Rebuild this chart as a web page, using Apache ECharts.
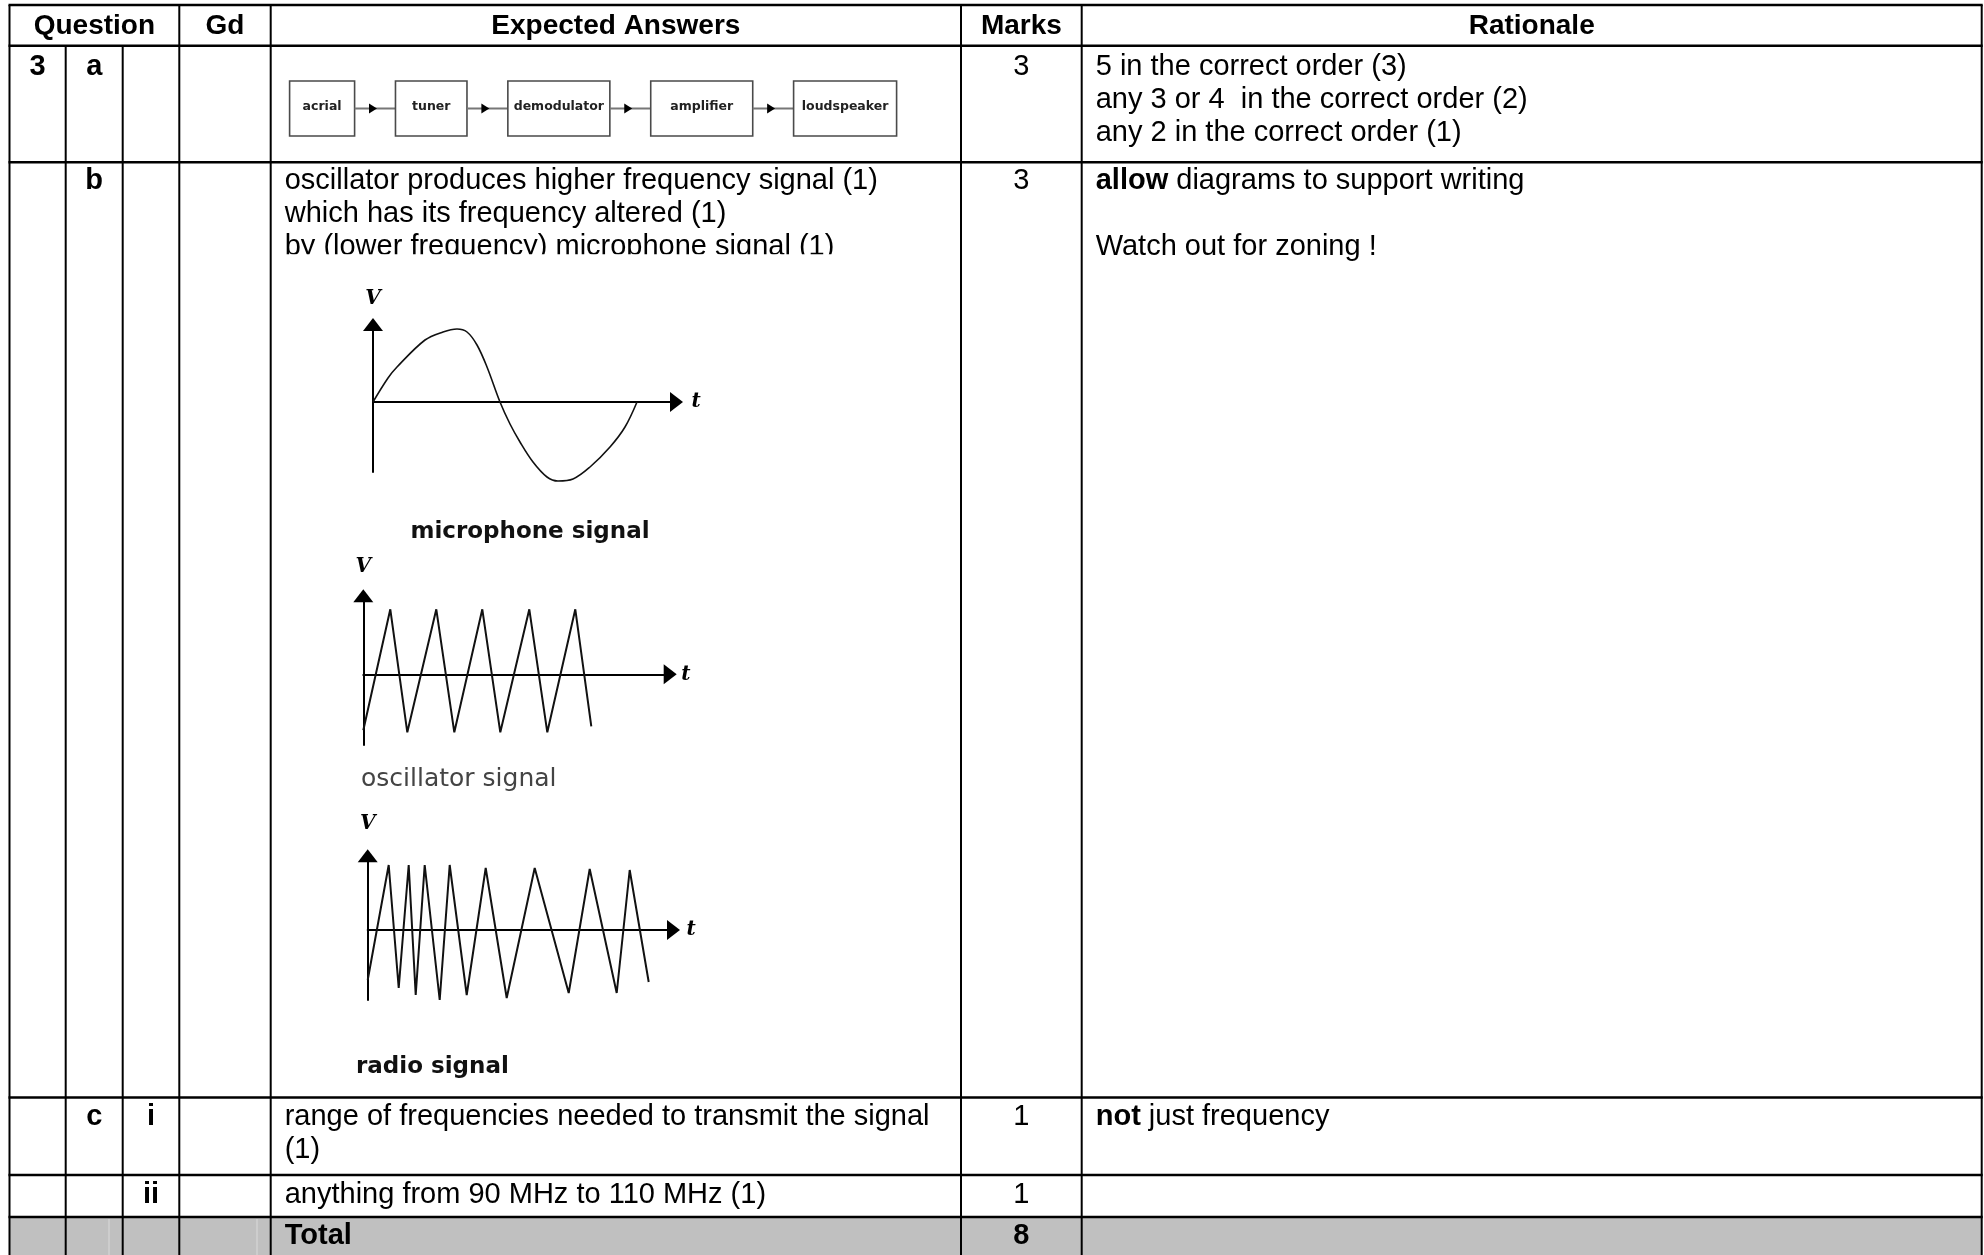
<!DOCTYPE html>
<html>
<head>
<meta charset="utf-8">
<title>Question 3 - mark scheme</title>
<script src="https://cdn.jsdelivr.net/npm/echarts@6/dist/echarts.min.js"></script>
<style>
    html, body { margin: 0; padding: 0; background: #fff; }
    #chart { width: 1984px; height: 1255px; }
</style>
</head>
<body>
<div id="chart"></div>
<script>
// table texts
var headers = ['Question', 'Gd', 'Expected Answers', 'Marks', 'Rationale'];
var partLabels = ['3', 'a', 'b', 'c', 'i', 'ii'];
var marks = ['3', '3', '1', '1', '8'];
var rationaleA = ['5 in the correct order (3)', 'any 3 or 4  in the correct order (2)', 'any 2 in the correct order (1)'];
var answerB = ['oscillator produces higher frequency signal (1)', 'which has its frequency altered (1)', 'by (lower frequency) microphone signal (1)'];
var answerC = ['range of frequencies needed to transmit the signal', '(1)'];
var answerII = 'anything from 90 MHz to 110 MHz (1)';

// block diagram of the receiver
var blockLabels = ['acrial', 'tuner', 'demodulator', 'amplifier', 'loudspeaker'];

// wave sketches, [t, V]
var micSignal = [[0, 0], [15, 24], [24, 35], [52, 62], [70, 70], [84, 73], [94, 70], [104, 57], [114, 35], [127, 0],
    [137, -22], [147, -40], [160, -60], [174, -75], [185, -79], [200, -77], [217, -65], [237, -45], [252, -25], [264, 0]];
var oscSignal = [[0, -56], [27, 65], [44, -58], [73, 65], [91, -58], [119, 65], [137, -58], [166, 65], [184, -58],
    [212, 65], [228, -52]];
var radioSignal = [[0, -50], [21, 65], [31, -58], [41, 65], [48, -65], [57, 65], [72, -70], [82, 65], [99, -65],
    [118, 62], [139, -68], [167, 62], [201, -63], [222, 61], [249, -63], [262, 60], [281, -52]];

// layout
var COLS = [9.5, 65.7, 122.7, 179.3, 270.7, 961, 1081.7, 1981.7];
var ROWS = [5, 45.7, 162.3, 1097.5, 1175, 1217, 1255];
var LH = 33;
var BODY = 29;
var FONT = 'Liberation Sans, Arial, sans-serif';
var blockBoxWidths = [65, 71.5, 102, 102, 103];

showChart();

function mid(a, b) {
    return (a + b) / 2;
}

function txt(x, y, s, o) {
    o = o || {};
    var size = o.size || BODY;
    return {
        type: 'text',
        x: x,
        y: y,
        z: 5,
        silent: true,
        style: {
            text: s,
            fill: o.fill || '#000',
            fontSize: size,
            fontWeight: o.bold ? 'bold' : 'normal',
            fontFamily: o.family || FONT,
            align: o.align || 'left',
            verticalAlign: 'middle',
            rich: {
                b: { fontSize: size, fontWeight: 'bold', fontFamily: o.family || FONT, fill: '#000' }
            }
        }
    };
}

function line(x1, y1, x2, y2, w, c) {
    return {
        type: 'line',
        z: 6,
        silent: true,
        shape: { x1: x1, y1: y1, x2: x2, y2: y2 },
        style: { stroke: c || '#000', lineWidth: w || 2 }
    };
}

function tableGraphics() {
    var g = [];
    var L = COLS[0], R = COLS[COLS.length - 1];

    // grey total row
    g.push({
        type: 'rect', z: 1, silent: true,
        shape: { x: L, y: ROWS[5], width: R - L, height: ROWS[6] - ROWS[5] },
        style: { fill: '#c0c0c0' }
    });
    g.push(line(109, ROWS[5] + 2, 109, ROWS[6], 1, '#dadada'));
    g.push(line(257, ROWS[5] + 2, 257, ROWS[6], 1, '#dadada'));

    // horizontal rules
    for (var i = 0; i < ROWS.length - 1; i++) {
        g.push(line(L - 1, ROWS[i], R + 1, ROWS[i], 2.4));
    }
    // vertical rules (two inner question columns are merged in the header)
    for (var j = 0; j < COLS.length; j++) {
        var top = (j === 1 || j === 2) ? ROWS[1] : ROWS[0];
        g.push(line(COLS[j], top, COLS[j], ROWS[6], 2));
    }

    // header
    var hy = mid(ROWS[0], ROWS[1]) + 1;
    g.push(txt(mid(COLS[0], COLS[3]), hy, headers[0], { bold: true, align: 'center', size: 28 }));
    g.push(txt(mid(COLS[3], COLS[4]), hy, headers[1], { bold: true, align: 'center', size: 28 }));
    g.push(txt(mid(COLS[4], COLS[5]), hy, headers[2], { bold: true, align: 'center', size: 28 }));
    g.push(txt(mid(COLS[5], COLS[6]), hy, headers[3], { bold: true, align: 'center', size: 28 }));
    g.push(txt(mid(COLS[6], COLS[7]), hy, headers[4], { bold: true, align: 'center', size: 28 }));

    var ax = COLS[4] + 14, rx = COLS[6] + 14, mx = mid(COLS[5], COLS[6]);
    var c0 = mid(COLS[0], COLS[1]), c1 = mid(COLS[1], COLS[2]), c2 = mid(COLS[2], COLS[3]);

    // row 3a
    var ya = ROWS[1] + 21;
    g.push(txt(c0, ya, partLabels[0], { bold: true, align: 'center' }));
    g.push(txt(c1, ya, partLabels[1], { bold: true, align: 'center' }));
    g.push(txt(mx, ya, marks[0], { align: 'center' }));
    rationaleA.forEach(function(s, k) {
        g.push(txt(rx, ya + k * LH, s));
    });

    // row b
    var yb = ROWS[2] + 19;
    g.push(txt(c1, yb, partLabels[2], { bold: true, align: 'center' }));
    g.push(txt(mx, yb, marks[1], { align: 'center' }));
    answerB.forEach(function(s, k) {
        g.push(txt(ax, yb + k * LH, s));
    });
    // the pasted sketch hides the foot of the last line
    g.push({
        type: 'rect', z: 7, silent: true,
        shape: { x: COLS[4] + 3, y: yb + 2 * LH + 7, width: COLS[5] - COLS[4] - 6, height: 14 },
        style: { fill: '#fff' }
    });
    g.push(txt(rx, yb, '{b|allow} diagrams to support writing'));
    g.push(txt(rx, yb + 2 * LH, 'Watch out for zoning !'));

    // sketch captions
    g.push(txt(530, 532, 'microphone signal', { bold: true, size: 23, family: 'DejaVu Sans', align: 'center', fill: '#111' }));
    g.push(txt(361, 779, 'oscillator signal', { size: 25, family: 'DejaVu Sans', fill: '#444' }));
    g.push(txt(356, 1067, 'radio signal', { bold: true, size: 23, family: 'DejaVu Sans', fill: '#111' }));

    // row c i
    var yc = ROWS[3] + 19;
    g.push(txt(c1, yc, partLabels[3], { bold: true, align: 'center' }));
    g.push(txt(c2, yc, partLabels[4], { bold: true, align: 'center' }));
    g.push(txt(mx, yc, marks[2], { align: 'center' }));
    answerC.forEach(function(s, k) {
        g.push(txt(ax, yc + k * LH, s));
    });
    g.push(txt(rx, yc, '{b|not} just frequency'));

    // row ii
    var yi = mid(ROWS[4], ROWS[5]) - 1;
    g.push(txt(c2, yi, partLabels[5], { bold: true, align: 'center' }));
    g.push(txt(mx, yi, marks[3], { align: 'center' }));
    g.push(txt(ax, yi, answerII));

    // total
    var yt = mid(ROWS[5], ROWS[6]);
    g.push(txt(ax, yt, 'Total', { bold: true }));
    g.push(txt(mx, yt, marks[4], { bold: true, align: 'center' }));

    return g;
}

function renderBlock(params, api) {
    var i = params.dataIndex;
    var cs = params.coordSys;
    var n = blockLabels.length;
    var total = 0;
    blockBoxWidths.forEach(function(w) { total += w; });
    var gap = (cs.width - total) / (n - 1);
    var x = cs.x;
    for (var j = 0; j < i; j++) {
        x += blockBoxWidths[j] + gap;
    }
    var w = blockBoxWidths[i];
    var yc = api.coord([i, 0])[1];
    var children = [{
        type: 'rect',
        shape: { x: x, y: cs.y, width: w, height: cs.height },
        style: { fill: '#fff', stroke: '#4a4a4a', lineWidth: 1.6 }
    }, {
        type: 'text',
        style: {
            text: blockLabels[i], x: x + w / 2, y: yc - 2,
            align: 'center', verticalAlign: 'middle',
            fontSize: 12.5, fontWeight: 'bold', fontFamily: 'DejaVu Sans', fill: '#222'
        }
    }];
    if (i < n - 1) {
        var hx = x + w + gap * 0.45;
        children.push({
            type: 'line',
            shape: { x1: x + w, y1: yc, x2: x + w + gap, y2: yc },
            style: { stroke: '#777', lineWidth: 2 }
        });
        children.push({
            type: 'polygon',
            shape: { points: [[hx - 4, yc - 5], [hx + 4, yc], [hx - 4, yc + 5]] },
            style: { fill: '#000' }
        });
    }
    return { type: 'group', children: children };
}

function waveX(idx, tMax, gap) {
    return {
        type: 'value', gridIndex: idx, min: 0, max: tMax,
        name: 't', nameLocation: 'end', nameGap: gap,
        nameTextStyle: { fontStyle: 'italic', fontWeight: 'bold', fontSize: 20, fontFamily: 'DejaVu Serif', color: '#000' },
        axisLine: {
            show: true, onZero: true,
            symbol: ['none', 'triangle'], symbolSize: [20, 13],
            lineStyle: { color: '#000', width: 2 }
        },
        axisTick: { show: false },
        axisLabel: { show: false },
        splitLine: { show: false }
    };
}

function waveY(idx, vMin, vMax, gap) {
    return {
        type: 'value', gridIndex: idx, min: vMin, max: vMax,
        name: 'V', nameLocation: 'end', nameGap: gap,
        nameTextStyle: { fontStyle: 'italic', fontWeight: 'bold', fontSize: 20, fontFamily: 'DejaVu Serif', color: '#000' },
        axisLine: {
            show: true, onZero: false,
            symbol: ['none', 'triangle'], symbolSize: [20, 13],
            lineStyle: { color: '#000', width: 2 }
        },
        axisTick: { show: false },
        axisLabel: { show: false },
        splitLine: { show: false }
    };
}

function waveSeries(idx, data, smooth, width) {
    return {
        type: 'line', xAxisIndex: idx, yAxisIndex: idx,
        data: data, smooth: smooth, showSymbol: false, clip: false, silent: true,
        lineStyle: { color: '#111', width: width }
    };
}

function showChart() {
    var oChart = document.getElementById('chart');
    var chart = echarts.init(oChart, null, { renderer: 'canvas' });

    var option = {
        backgroundColor: '#fff',
        animation: false,
        grid: [
            { left: 289.6, top: 81, width: 607, height: 55 },
            { left: 373, top: 324.5, width: 303.5, height: 147.5 },
            { left: 363.3, top: 595.8, width: 306.9, height: 149.2 },
            { left: 367.7, top: 855.8, width: 305.8, height: 144.2 }
        ],
        xAxis: [
            { type: 'category', gridIndex: 0, data: blockLabels, show: false },
            waveX(1, 303.5, 15),
            waveX(2, 306.9, 11),
            waveX(3, 305.8, 13)
        ],
        yAxis: [
            { type: 'value', gridIndex: 0, min: -1, max: 1, show: false },
            waveY(1, -70, 77.5, 16),
            waveY(2, -70.7, 78.5, 19),
            waveY(3, -70, 74.2, 22)
        ],
        graphic: { elements: tableGraphics() },
        series: [{
            type: 'custom',
            xAxisIndex: 0,
            yAxisIndex: 0,
            silent: true,
            renderItem: renderBlock,
            data: blockLabels.map(function(name, i) {
                return { name: name, value: [i, 0] };
            })
        },
            waveSeries(1, micSignal, 0.35, 1.6),
            waveSeries(2, oscSignal, false, 2),
            waveSeries(3, radioSignal, false, 2)
        ]
    };

    chart.setOption(option);
}
</script>
</body>
</html>
